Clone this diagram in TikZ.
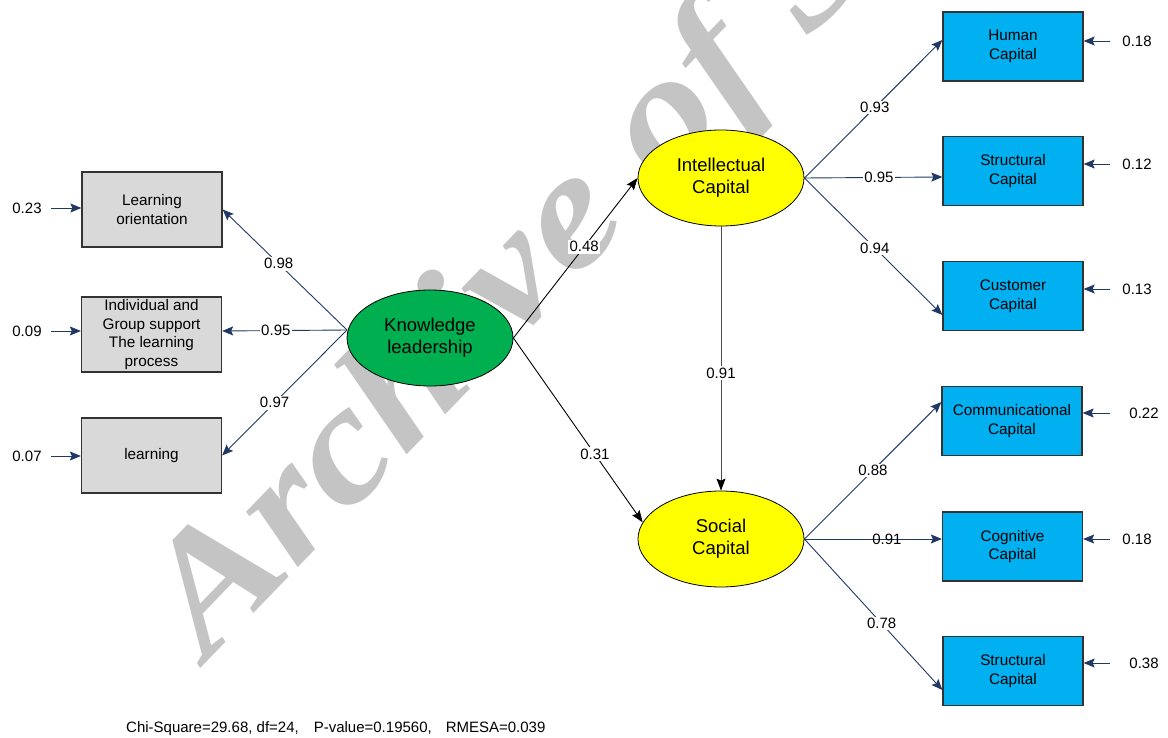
\documentclass[tikz,border=0pt]{standalone}
\usepackage{fontspec}
\setmainfont{Liberation Sans}
\newfontfamily\wmfont{Liberation Serif}
\usetikzlibrary{arrows.meta,calc,shapes.geometric}
\definecolor{navy}{RGB}{31,56,100}
\definecolor{kgreen}{RGB}{0,176,80}
\definecolor{kyellow}{RGB}{255,255,0}
\definecolor{kcyan}{RGB}{0,176,240}
\definecolor{kgray}{RGB}{217,217,217}
\definecolor{wmgray}{RGB}{196,196,196}
\begin{document}
\begin{tikzpicture}[x=1pt,y=-1pt,
 obsl/.style={draw=black!80, line width=1.3pt, fill=kgray, minimum width=140pt, minimum height=75pt, align=center, font=\fontsize{15.3}{18.5}\selectfont, inner sep=0pt},
 obsr/.style={obsl, fill=kcyan, minimum height=69pt},
 lat/.style={ellipse, draw=black, line width=0.8pt, minimum width=166pt, minimum height=96pt, align=center, font=\fontsize{18.5}{22}\selectfont, inner sep=0pt},
 kfill/.style={fill=kgreen},
 yfill/.style={fill=kyellow},
 num/.style={font=\fontsize{15}{17}\selectfont, inner sep=1.5pt},
 lbl/.style={num, fill=white},
 ind/.style={draw=navy, line width=0.9pt, -{Stealth[length=11pt,width=9pt,inset=2pt]}},
 pth/.style={draw=black, line width=0.9pt, -{Stealth[length=12pt,width=9pt,inset=2pt]}},
 wmtext/.style={text=wmgray, font=\wmfont\bfseries\itshape\fontsize{165}{165}\selectfont, inner sep=0pt}
]
\useasboundingbox (0,0) rectangle (1168,738);

% watermark (behind everything)
\node[wmtext, rotate=46, anchor=base west] (wmk) at (207,662) {\scalebox{1.15}[1]{Archive of SID}};

% latent variables
\node[lat, kfill] (kl) at (430,338) {Knowledge\\leadership};
\node[lat, yfill] (ic) at (721,178) {Intellectual\\Capital};
\node[lat, yfill] (soc) at (721,539) {Social\\Capital};

% left indicators
\node[obsl] (lo) at (152,209.5) {Learning\\orientation};
\node[obsl] (ig) at (151.5,334.5) {Individual and\\Group support\\The learning\\process};
\node[obsl] (ln) at (151.5,455.5) {learning};

% right indicators
\node[obsr] (hc) at (1013,46.5) {Human\\Capital};
\node[obsr] (sc1) at (1013,171) {Structural\\Capital};
\node[obsr] (cc) at (1013,296) {Customer\\Capital};
\node[obsr] (cm) at (1012,421) {Communicational\\Capital};
\node[obsr] (cg) at (1012.5,546.5) {Cognitive\\Capital};
\node[obsr] (sc2) at (1013,671) {Structural\\Capital};

% error terms left
\node[num] (e1) at (27,208) {0.23};
\node[num] (e2) at (27,331) {0.09};
\node[num] (e3) at (27,456) {0.07};
\draw[ind] ([xshift=8pt]e1.east) -- (e1 -| lo.west);
\draw[ind] ([xshift=8pt]e2.east) -- (e2 -| ig.west);
\draw[ind] ([xshift=8pt]e3.east) -- (e3 -| ln.west);

% error terms right
\node[num] (r1) at (1137,41) {0.18};
\node[num] (r2) at (1137,164) {0.12};
\node[num] (r3) at (1137,289) {0.13};
\node[num] (r4) at (1144,413) {0.22};
\node[num] (r5) at (1137,539) {0.18};
\node[num] (r6) at (1144,663) {0.38};
\draw[ind] ([xshift=-11pt]r1.west) -- (r1 -| hc.east);
\draw[ind] ([xshift=-11pt]r2.west) -- (r2 -| sc1.east);
\draw[ind] ([xshift=-11pt]r3.west) -- (r3 -| cc.east);
\draw[ind] ([xshift=-18pt]r4.west) -- (r4 -| cm.east);
\draw[ind] ([xshift=-11pt]r5.west) -- (r5 -| cg.east);
\draw[ind] ([xshift=-18pt]r6.west) -- (r6 -| sc2.east);

% loadings of knowledge leadership
\coordinate (klw) at (347,330);
\draw[ind] (klw) -- node[lbl,pos=0.55] (l98) {0.98} (lo.east);
\draw[ind] (klw) -- node[lbl,pos=0.57] (l95) {0.95} ($(ig.east)+(0,-3.5)$);
\draw[ind] (klw) -- node[lbl,pos=0.58] (l97) {0.97} (ln.east);

% loadings of intellectual capital
\draw[ind] (ic.east) -- node[lbl,pos=0.51] (l93) {0.93} ($(hc.west)+(0,-6.5)$);
\draw[ind] (ic.east) -- node[lbl,pos=0.54] (l95b) {0.95} ($(sc1.west)+(0,6)$);
\draw[ind] (ic.east) -- node[lbl,pos=0.51] (l94) {0.94} ($(cc.west)+(0,19)$);

% loadings of social capital
\draw[ind] (soc.east) -- node[lbl,pos=0.5] (l88) {0.88} ($(cm.west)+(0,-19)$);
\draw[ind] (soc.east) -- node[num,pos=0.6] (l91b) {0.91} ($(cg.west)+(0,-7.5)$);
\draw[ind] (soc.east) -- node[lbl,pos=0.56] (l78) {0.78} ($(sc2.west)+(0,19)$);

% structural paths
\draw[pth] (kl.east) -- node[lbl,pos=0.57] (l48) {0.48} (ic.west);
\draw[pth] (kl.east) -- node[lbl,pos=0.63] (l31) {0.31} (soc.168);
\draw[pth, draw=black!70, -{Stealth[length=12pt,width=9pt,inset=2pt,color=black]}] (ic.south) -- node[lbl,pos=0.555] (l91) {0.91} (soc.north);

% fit statistics
\node[anchor=west, font=\fontsize{15}{17}\selectfont, inner sep=0pt] (fit) at (126,729) {Chi-Square=29.68, df=24,\hspace{15pt}P-value=0.19560,\hspace{14pt}RMESA=0.039};
\end{tikzpicture}
\end{document}
